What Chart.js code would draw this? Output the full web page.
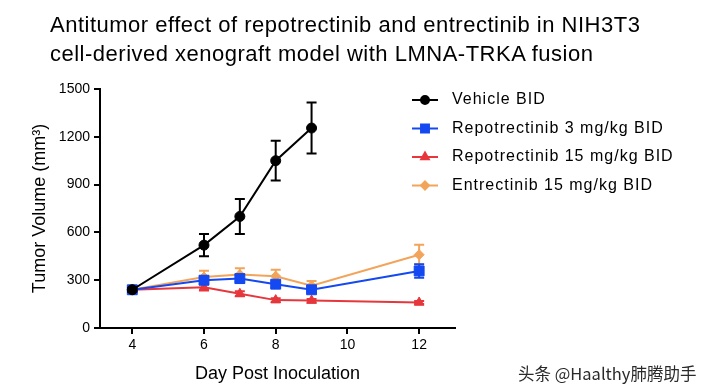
<!DOCTYPE html>
<html>
<head>
<meta charset="utf-8">
<script src="https://cdn.jsdelivr.net/npm/chart.js@4"></script>
<style>
  body { margin: 0; background: #fff; }
  #wrap { position: relative; width: 724px; height: 388px; }
  #title { position: absolute; left: 50px; top: 10px; font: 22px "Liberation Sans", Arial, sans-serif;
           line-height: 29px; color: #000; letter-spacing: 0.5px; white-space: nowrap; }
  #mark { position: absolute; left: 518px; top: 361px; font: 16.5px "Noto Sans CJK SC", "Liberation Sans", sans-serif;
          color: #2a2a2a; text-shadow: 0 0 2px #fff; }
</style>
</head>
<body>
<div id="wrap">
  <canvas id="chart" width="724" height="388"></canvas>
  <div id="title">Antitumor effect of repotrectinib and entrectinib in NIH3T3<br>cell-derived xenograft model with LMNA-TRKA fusion</div>
  <div id="mark">头条 @Haalthy肺腾助手</div>
</div>
<script>
// days of measurement
const days = [4, 6, 7, 8, 9, 12];
const xTicks = [4, 6, 8, 10, 12];

// mean tumor volume (mm3) and error (SEM)
const vehicle = [240, 520, 700, 1050, 1255];
const vehicleErr = [12, 70, 110, 125, 160];
const repo3 = [240, 300, 310, 275, 240, 358];
const repo3Err = [10, 25, 25, 20, 15, 42];
const repo15 = [240, 255, 215, 175, 172, 160];
const repo15Err = [10, 20, 15, 12, 10, 10];
const entre15 = [240, 320, 335, 325, 265, 460];
const entre15Err = [10, 40, 40, 40, 30, 62];

const pts = (vals) => vals.map((v, i) => ({ x: days[i], y: v }));

// vertical error bars with caps, drawn under each dataset's own line
const errorBars = {
  id: 'errorBars',
  beforeDatasetDraw(chart, args) {
    const ds = chart.data.datasets[args.index];
    if (!ds.errors) return;
    const { ctx, scales: { x, y } } = chart;
    ctx.save();
    ctx.strokeStyle = ds.borderColor;
    ctx.lineWidth = 2;
    ds.data.forEach((p, i) => {
      const e = ds.errors[i];
      const px = x.getPixelForValue(p.x);
      const top = y.getPixelForValue(p.y + e);
      const bot = y.getPixelForValue(p.y - e);
      ctx.beginPath();
      ctx.moveTo(px, top); ctx.lineTo(px, bot);
      ctx.moveTo(px - 5, top); ctx.lineTo(px + 5, top);
      ctx.moveTo(px - 5, bot); ctx.lineTo(px + 5, bot);
      ctx.stroke();
    });
    ctx.restore();
  }
};

// legend on the right, prism style (line + marker)
const sideLegend = {
  id: 'sideLegend',
  afterDraw(chart) {
    const ctx = chart.ctx;
    ctx.save();
    chart.data.datasets.forEach((ds, i) => {
      const yy = 100 + i * 28.5;
      ctx.strokeStyle = ds.borderColor;
      ctx.fillStyle = ds.borderColor;
      ctx.lineWidth = 2;
      ctx.beginPath();
      ctx.moveTo(412, yy); ctx.lineTo(438, yy);
      ctx.stroke();
      Chart.helpers.drawPoint(ctx, { pointStyle: ds.pointStyle, radius: ds.pointRadius * 0.8, rotation: 0, borderWidth: 1 }, 425, yy);
      ctx.fillStyle = '#000';
      ctx.font = '16px "Liberation Sans", Arial, sans-serif';
      ctx.letterSpacing = '1px';
      ctx.textBaseline = 'middle';
      ctx.fillText(ds.label, 452, yy);
    });
    ctx.restore();
  }
};

const line = (label, vals, errs, color, style, r) => ({
  label, data: pts(vals), errors: errs,
  borderColor: color, backgroundColor: color,
  pointStyle: style, pointRadius: r, pointBorderWidth: 1,
  borderWidth: 2, tension: 0
});

new Chart(document.getElementById('chart').getContext('2d'), {
  type: 'line',
  data: {
    datasets: [
      line('Vehicle BID', vehicle, vehicleErr, '#000000', 'circle', 5),
      line('Repotrectinib 3 mg/kg BID', repo3, repo3Err, '#1448f0', 'rect', 7),
      line('Repotrectinib 15 mg/kg BID', repo15, repo15Err, '#e6373c', 'triangle', 5.5),
      line('Entrectinib 15 mg/kg BID', entre15, entre15Err, '#f2a45a', 'rectRot', 5)
    ]
  },
  options: {
    responsive: false,
    animation: false,
    layout: { padding: { top: 89, right: 269, left: 0, bottom: 0 } },
    plugins: { legend: { display: false }, tooltip: { enabled: false } },
    scales: {
      x: {
        type: 'linear', min: 3.1, max: 13,
        afterBuildTicks: (s) => { s.ticks = xTicks.map(v => ({ value: v })); },
        afterFit: (s) => { s.height = 60; },
        border: { color: '#000', width: 2 },
        grid: { drawOnChartArea: false, color: '#000', lineWidth: 2, tickLength: 6 },
        ticks: { color: '#000', padding: 3, font: { family: 'Liberation Sans', size: 14 } },
        title: { display: true, text: 'Day Post Inoculation', color: '#000', padding: { top: 0, bottom: 3 },
                 font: { family: 'Liberation Sans', size: 18 } }
      },
      y: {
        min: 0, max: 1500,
        afterFit: (s) => { s.width = 100; },
        border: { color: '#000', width: 2 },
        grid: { drawOnChartArea: false, color: '#000', lineWidth: 2, tickLength: 6 },
        ticks: { stepSize: 300, color: '#000', padding: 4, font: { family: 'Liberation Sans', size: 14 },
                 callback: (v) => String(v) },
        title: { display: true, text: 'Tumor Volume (mm³)', color: '#000', padding: { top: 29, bottom: 0 },
                 font: { family: 'Liberation Sans', size: 18 } }
      }
    }
  },
  plugins: [errorBars, sideLegend]
});
</script>
</body>
</html>
